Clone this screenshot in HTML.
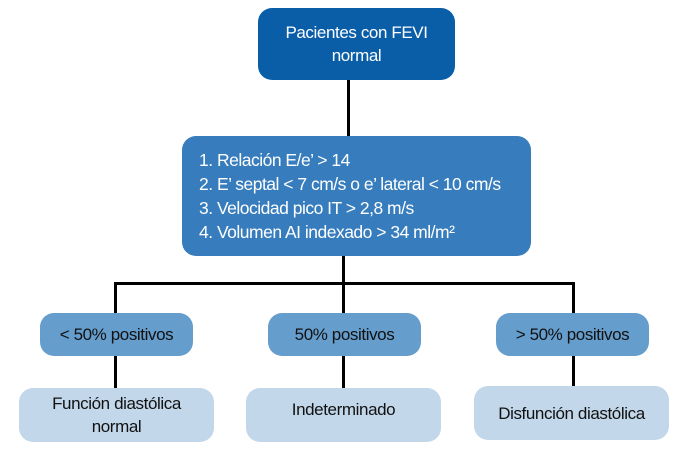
<!DOCTYPE html>
<html><head><meta charset="utf-8"><style>
body{margin:0;width:676px;height:455px;background:#fff;position:relative;overflow:hidden;font-family:"Liberation Sans",sans-serif;}
.b{position:absolute;border-radius:14px;display:flex;align-items:center;justify-content:center;text-align:center;font-size:17px;line-height:23px;letter-spacing:-0.4px}
.l{position:absolute;background:#000}
</style></head><body>
<div class="l" style="left:347px;top:78px;width:3px;height:60px"></div>
<div class="l" style="left:342px;top:254px;width:3px;height:136px"></div>
<div class="l" style="left:114px;top:282px;width:461px;height:3px"></div>
<div class="l" style="left:114px;top:282px;width:3px;height:108px"></div>
<div class="l" style="left:572px;top:282px;width:3px;height:108px"></div>
<div class="b" style="left:258px;top:8px;width:197px;height:72px;background:#0a5ea8;color:#fff">Pacientes con FEVI<br>normal</div>
<div class="b" style="left:182px;top:136px;width:349px;height:120px;background:#377dbd;color:#fff;justify-content:flex-start;text-align:left;padding-left:17px;box-sizing:border-box;line-height:24px;font-size:17.5px;letter-spacing:-0.5px">1. Relación E/e’ &gt; 14<br>2. E’ septal &lt; 7 cm/s o e’ lateral &lt; 10 cm/s<br>3. Velocidad pico IT &gt; 2,8 m/s<br>4. Volumen AI indexado &gt; 34 ml/m²</div>
<div class="b" style="left:40px;top:313px;width:153px;height:43px;background:#659dcc;color:#111">&lt; 50% positivos</div>
<div class="b" style="left:268px;top:313px;width:153px;height:43px;background:#659dcc;color:#111">50% positivos</div>
<div class="b" style="left:496px;top:313px;width:153px;height:43px;background:#659dcc;color:#111">&gt; 50% positivos</div>
<div class="b" style="left:19px;top:388px;width:195px;height:54px;background:#c2d7ea;color:#111">Función diastólica<br>normal</div>
<div class="b" style="left:246px;top:388px;width:195px;height:54px;background:#c2d7ea;color:#111;align-items:flex-start;padding-top:10px;box-sizing:border-box">Indeterminado</div>
<div class="b" style="left:474px;top:386px;width:195px;height:54px;background:#c2d7ea;color:#111">Disfunción diastólica</div>
</body></html>
